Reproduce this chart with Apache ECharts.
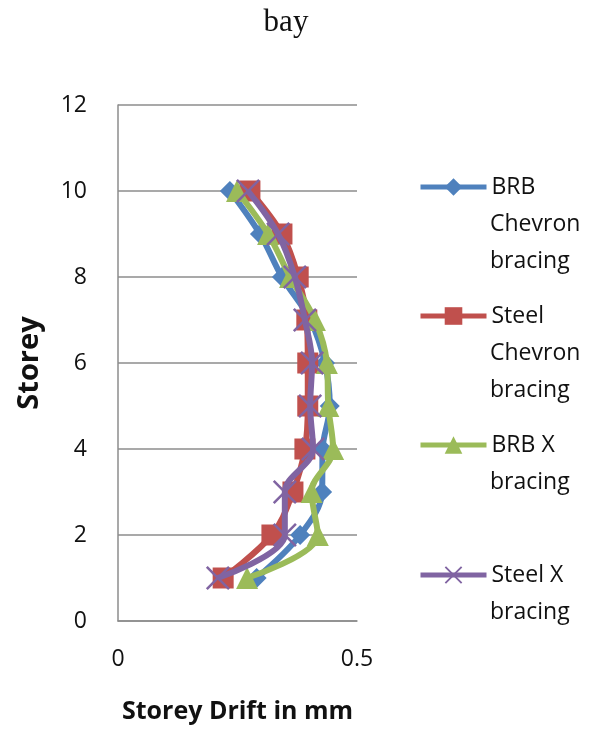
<!DOCTYPE html>
<html>
<head>
<meta charset="utf-8">
<script src="https://cdn.jsdelivr.net/npm/echarts@6/dist/echarts.min.js"></script>
<style>
  html, body { margin: 0; padding: 0; background: #fff; }
  #chart { width: 605px; height: 729px; }
</style>
</head>
<body>
<div id="chart"></div>
<script>
// storey levels
var storeys = [1, 2, 3, 4, 5, 6, 7, 8, 9, 10];

// storey drift in mm
var brbChevron   = [0.290, 0.381, 0.427, 0.428, 0.443, 0.433, 0.402, 0.343, 0.297, 0.234];
var steelChevron = [0.220, 0.322, 0.366, 0.391, 0.397, 0.397, 0.395, 0.377, 0.343, 0.276];
var brbX         = [0.270, 0.418, 0.405, 0.450, 0.440, 0.437, 0.412, 0.360, 0.314, 0.249];
var steelX       = [0.209, 0.349, 0.349, 0.408, 0.402, 0.406, 0.391, 0.370, 0.335, 0.272];

var seriesNames = ['BRB Chevron bracing', 'Steel Chevron bracing', 'BRB X bracing', 'Steel X bracing'];
var legendFirst = ['BRB', 'Steel', 'BRB X', 'Steel X'];
var legendRest  = [['Chevron', 'bracing'], ['Chevron', 'bracing'], ['bracing'], ['bracing']];
var colors = ['#4F81BD', '#C0504D', '#9BBB59', '#8064A2'];

var font = '"Open Sans", Lato, sans-serif';
var xMark = 'path://M0,1.5L1.5,0L10,8.5L18.5,0L20,1.5L11.5,10L20,18.5L18.5,20L10,11.5L1.5,20L0,18.5L8.5,10Z';
var symbols = ['diamond', 'rect', 'triangle', xMark];
var symbolSizes = [20, 21, 22, 24];

function pairs(vals) {
  var out = [];
  for (var i = 0; i < vals.length; i++) {
    out.push([vals[i], storeys[i]]);
  }
  return out;
}

var allData = [brbChevron, steelChevron, brbX, steelX];
var series = [];
for (var i = 0; i < allData.length; i++) {
  series.push({
    name: seriesNames[i],
    type: 'line',
    data: pairs(allData[i]),
    smooth: 0.35,
    symbol: symbols[i],
    symbolSize: symbolSizes[i],
    itemStyle: { color: colors[i] },
    lineStyle: { color: colors[i], width: 6 },
    z: 2 + i
  });
}

// one legend per entry, so the gaps match the picture
var legendY = [187, 316, 445, 575];
var legends = [];
var graphics = [];
for (var i = 0; i < seriesNames.length; i++) {
  legends.push({
    data: [seriesNames[i]],
    left: 418,
    top: legendY[i] - 14,
    itemWidth: 66,
    itemHeight: 22,
    itemGap: 0,
    itemTextGap: 0,
    padding: 0,
    selectedMode: false,
    lineStyle: { width: 5 },
    formatter: (function (t) { return function () { return t; }; })(legendFirst[i]),
    textStyle: { fontFamily: font, fontSize: 23, color: '#111', lineHeight: 28 }
  });
  for (var j = 0; j < legendRest[i].length; j++) {
    graphics.push({
      type: 'text',
      x: 490,
      y: legendY[i] + 37 * (j + 1),
      style: { text: legendRest[i][j], font: '23px ' + font, fill: '#111', verticalAlign: 'middle' }
    });
  }
}

var chart = echarts.init(document.getElementById('chart'));
chart.setOption({
  animation: false,
  backgroundColor: '#fff',
  title: {
    text: 'bay',
    left: 281,
    top: 2,
    textAlign: 'center',
    textStyle: { fontFamily: '"Liberation Serif", serif', fontSize: 31, fontWeight: 'normal', color: '#111' }
  },
  legend: legends,
  graphic: graphics,
  grid: { left: 118, right: 248, top: 105, bottom: 108, containLabel: false },
  xAxis: {
    type: 'value',
    min: 0,
    max: 0.5,
    interval: 0.5,
    name: 'Storey Drift in mm',
    nameLocation: 'middle',
    nameGap: 78,
    nameTextStyle: { fontFamily: font, fontSize: 25, fontWeight: 'bold', color: '#111' },
    axisLine: { show: true, lineStyle: { color: '#8c8c8c', width: 1.5 } },
    axisTick: { show: false },
    splitLine: { show: false },
    axisLabel: { margin: 27, fontFamily: font, fontSize: 23, color: '#111' }
  },
  yAxis: {
    type: 'value',
    min: 0,
    max: 12,
    interval: 2,
    name: 'Storey',
    nameLocation: 'middle',
    nameGap: 74,
    nameTextStyle: { fontFamily: font, fontSize: 29, fontWeight: 'bold', color: '#111' },
    axisLine: { show: true, lineStyle: { color: '#8c8c8c', width: 1.5 } },
    axisTick: { show: false },
    splitLine: { show: true, lineStyle: { color: '#8c8c8c', width: 1.5 } },
    axisLabel: { margin: 31, fontFamily: font, fontSize: 23, color: '#111' }
  },
  series: series
});
</script>
</body>
</html>
